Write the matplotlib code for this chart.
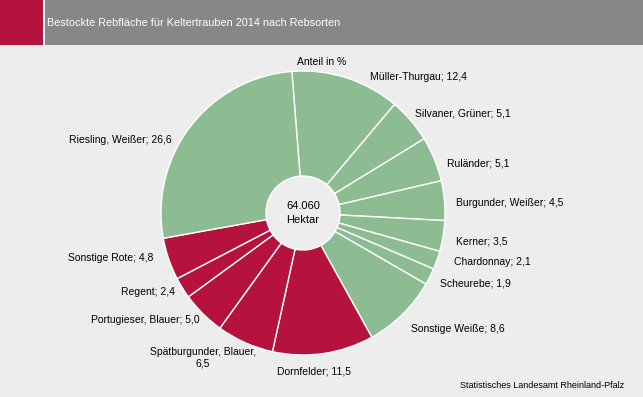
import numpy as np
import matplotlib.pyplot as plt

# Rebsorten, Anteil in %  (im Uhrzeigersinn ab 12 Uhr)
sorten = ['Müller-Thurgau', 'Silvaner, Grüner', 'Ruländer', 'Burgunder, Weißer',
          'Kerner', 'Chardonnay', 'Scheurebe', 'Sonstige Weiße',
          'Dornfelder', 'Spätburgunder, Blauer', 'Portugieser, Blauer',
          'Regent', 'Sonstige Rote', 'Riesling, Weißer']
anteil = [12.4, 5.1, 5.1, 4.5, 3.5, 2.1, 1.9, 8.6,
          11.5, 6.5, 5.0, 2.4, 4.8, 26.6]
weiss = [True] * 8 + [False] * 5 + [True]
gesamt = '64.060'

GREEN = '#8dbb92'
RED = '#b5133e'
GRAY = '#878787'
BG = '#ecedec'

W, H = 643, 397

# label placement in pixels (x, y from top, ha)
label_pos = [(370, 77, 'left'), (415, 113, 'left'), (447, 164, 'left'),
             (456, 203, 'left'), (456, 241, 'left'), (454, 262, 'left'),
             (440, 284, 'left'), (411, 329, 'left'), (314, 372, 'center'),
             (203, 358, 'center'), (200, 320, 'right'), (175, 292, 'right'),
             (153, 258, 'right'), (172, 140, 'right')]

def fmt(v):
    return ('%.1f' % v).replace('.', ',')

plt.rcParams['font.family'] = ['Liberation Sans', 'DejaVu Sans']

fig = plt.figure(figsize=(W / 100, H / 100), dpi=100, facecolor=BG)
ax = fig.add_axes([0, 0, 1, 1])
ax.set_xlim(0, W)
ax.set_ylim(0, H)
ax.set_aspect('equal')
ax.axis('off')

# header bar
ax.add_patch(plt.Rectangle((0, H - 45), W, 45, color='white', lw=0))
ax.add_patch(plt.Rectangle((0, H - 45), 43, 45, color=RED, lw=0))
ax.add_patch(plt.Rectangle((44.5, H - 45), W - 44.5, 45, color=GRAY, lw=0))
ax.text(47, H - 23, 'Bestockte Rebfläche für Keltertrauben 2014 nach Rebsorten',
        color='white', fontsize=7.8, va='center', ha='left')

cx, cy, r = 303, H - 213, 142
colors = [GREEN if w else RED for w in weiss]
ax.pie(anteil, colors=colors, startangle=94.5, counterclock=False,
       center=(cx, cy), radius=r, frame=True,
       wedgeprops=dict(edgecolor='white', linewidth=1.0, width=r - 37))
ax.set_xlim(0, W)
ax.set_ylim(0, H)
ax.axis('off')

ax.text(cx, cy + 7, gesamt, ha='center', va='center', fontsize=8)
ax.text(cx, cy - 7, 'Hektar', ha='center', va='center', fontsize=8)
ax.text(322, H - 62, 'Anteil in %', ha='center', va='center', fontsize=7.5)

for name, v, (x, y, ha) in zip(sorten, anteil, label_pos):
    if name.startswith('Spätburgunder'):
        txt = name + ',\n' + fmt(v)
    else:
        txt = name + '; ' + fmt(v)
    ax.text(x, H - y, txt, ha=ha, va='center', fontsize=7.5,
            multialignment='center', linespacing=1.15)

ax.text(624, H - 385, 'Statistisches Landesamt Rheinland-Pfalz', ha='right',
        va='center', fontsize=6.5)

fig.savefig('out.png', dpi=100, facecolor=BG)
